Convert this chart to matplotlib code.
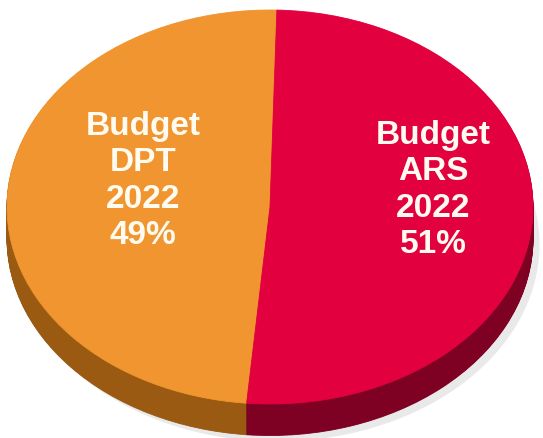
import matplotlib
matplotlib.use('Agg')
import matplotlib.pyplot as plt
import numpy as np

labels = ['Budget\nDPT\n2022\n49%', 'Budget\nARS\n2022\n51%']
shares = [49, 51]
top_colors = ['#F0952F', '#E2003F']
side_colors = ['#9A5A12', '#7E0022']

fig = plt.figure(figsize=(5.43, 4.38), dpi=100)
ax = fig.add_axes([0, 0, 1, 1])

depth = 0.16
start = 88.5

# faint drop shadow
sh, _ = ax.pie(shares, startangle=start, colors=['#d0d0d0', '#d0d0d0'], center=(0.025, -depth - 0.03), radius=1.0)
for w in sh:
    w.set_alpha(0.45)

# pie side: stacked darker layers
for k in np.linspace(depth, 0.005, 40):
    wedges, _ = ax.pie(shares, startangle=start, colors=side_colors, center=(0, -k))
    for w in wedges:
        w.set_edgecolor(w.get_facecolor())
        w.set_linewidth(0.6)

# top face
wedges, _ = ax.pie(shares, startangle=start, colors=top_colors)
for w in wedges:
    w.set_edgecolor(w.get_facecolor())
    w.set_linewidth(0.6)

font = dict(family=['Liberation Sans', 'DejaVu Sans'], fontsize=24, fontweight='bold',
            color='#FFFBF0', ha='center', va='center', linespacing=1.22)
ax.text(-0.483, 0.132, labels[0], **font)
ax.text(0.620, 0.086, labels[1], **font)

ax.set_aspect('auto')
ax.set_xlim(-1.0266, 1.038)
ax.set_ylim(-1.1726, 1.0508)
ax.axis('off')

fig.savefig('out.png', dpi=100, facecolor='white')
